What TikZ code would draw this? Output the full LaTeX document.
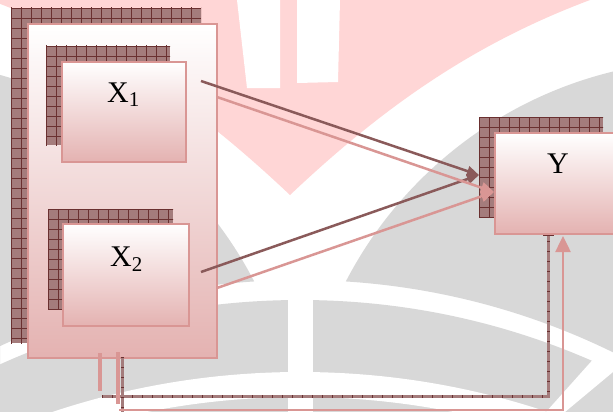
\documentclass[tikz,border=0pt]{standalone}
\usepackage{fontspec}
\setmainfont{Liberation Serif}
\usetikzlibrary{arrows.meta}
\definecolor{wmgrey}{HTML}{D8D8D8}
\definecolor{wmpink}{HTML}{FFD6D6}
\definecolor{pinkline}{HTML}{D99694}
\definecolor{boxbot}{HTML}{E4B2B1}
\definecolor{shbase}{HTML}{A47C7C}
\definecolor{shgrid}{HTML}{6A3030}
\definecolor{shline}{HTML}{8A5A5A}
\newcommand{\hatchrect}[4]{%
  \fill[shbase] (#1,#2) rectangle (#3,#4);
  \begin{scope}
    \clip (#1,#2) rectangle (#3,#4);
    \begin{scope}[shift={(#1,#2)}]
      \draw[shgrid, line width=0.7pt, step=10pt] (-1,-1) grid (#3-#1+1,#4-#2+1);
    \end{scope}
  \end{scope}}
\tikzset{
  boxnode/.style={draw=pinkline, line width=2.5pt, top color=white, bottom color=boxbot,
    inner sep=0pt, outer sep=0pt, anchor=north west},
  pinkconn/.style={draw=pinkline, line width=2.5pt},
  shadconn/.style={draw=shline, line width=2.5pt},
  lbl/.style={inner sep=0pt, anchor=base west, font=\fontsize{30}{30}\selectfont},
  pinktip/.style={-{Triangle[length=13pt,width=11pt]}},
  darktip/.style={-{Triangle[length=12pt,width=10pt]}},
}
\begin{document}
\begin{tikzpicture}[x=1pt,y=-1pt]
\useasboundingbox (0,0) rectangle (613,412);
\clip (0,0) rectangle (613,412);
% ---- watermark ----
\fill[white] (0,0) rectangle (613,412);
\fill[wmpink] (-10,0) .. controls (110,45) and (200,110) .. (290,195)
   .. controls (380,110) and (470,45) .. (590,0) -- cycle;
\fill[white] (237,0) -- (280,0) -- (280,88) -- (247,88) -- cycle;
\fill[white] (297,0) -- (340,0) -- (338,82) -- (297,83) -- cycle;
\begin{scope}
  \clip (710,470) circle[radius=410pt];
  \fill[wmgrey, even odd rule] (0,0) rectangle (613,412) (300,992) circle[radius=712pt];
\end{scope}
\begin{scope}
  \clip (-110,470) circle[radius=410pt];
  \fill[wmgrey, even odd rule] (0,0) rectangle (613,412) (300,992) circle[radius=712pt];
\end{scope}
\begin{scope}
  \clip (300,1029) circle[radius=729pt];
  \fill[wmgrey] (0,0) rectangle (613,412);
\end{scope}
\fill[white, even odd rule] (300,1155) circle[radius=783pt] (300,1180) circle[radius=783pt];
\fill[white] (288,296) rectangle (313,412);
\fill[white] (597,355) -- (613,355) -- (613,372) -- (565,412) -- (546,412) -- cycle;
% ---- boxes ----
\hatchrect{11}{8}{201}{343}
\node[boxnode, minimum width=189pt, minimum height=334pt] (outer) at (28,24) {};
\hatchrect{46}{46}{170}{145}
\node[boxnode, minimum width=124pt, minimum height=100pt] (x1) at (62,62) {};
\hatchrect{48}{209}{173}{309}
\node[boxnode, minimum width=126pt, minimum height=102pt] (x2) at (63,224) {};
\hatchrect{479}{117}{603}{217}
\node[boxnode, minimum width=135pt, minimum height=101pt] (y) at (495,133) {};
\node[lbl] (x1l) at (107,102) {X\raisebox{-5pt}{\fontsize{21}{21}\selectfont 1}};
\node[lbl] (x2l) at (110,266) {X\raisebox{-5pt}{\fontsize{21}{21}\selectfont 2}};
\node[lbl] (yl) at (547,173) {Y};
% ---- connector ends ----
\coordinate (s1a) at (201,81);
\coordinate (s2a) at (201,272);
\coordinate (stip) at (479,175);
\coordinate (p1a) at (217,97);
\coordinate (p2a) at (217,288);
\coordinate (ptip) at (494,192);
% ---- shadow connectors ----
\draw[shadconn, darktip] (s1a) -- (stip);
\draw[shadconn, darktip] (s2a) -- (stip);
\draw[shbase, line width=3pt] (102,396) -- (548,396) -- (548,235);
\draw[shgrid, line width=3pt, dash pattern=on 0.8pt off 9.2pt] (102,396) -- (548,396) -- (548,235);
\draw[shgrid, line width=1pt] (543,235) -- (554,235);
\draw[shbase, line width=3pt] (122,357) -- (122,412);
\draw[shgrid, line width=3pt, dash pattern=on 0.8pt off 9.2pt] (122,357) -- (122,412);
% ---- pink connectors ----
\draw[pinkconn, pinktip] (p1a) -- (ptip);
\draw[pinkconn, pinktip] (p2a) -- (ptip);
\draw[pinkline, line width=4pt] (100,353) -- (100,391);
\draw[pinkline, line width=4pt] (118,352) -- (118,404);
\draw[pinkconn, -{Triangle[length=16pt,width=15pt]}] (119,410) -- (563,410) -- (563,236);
\end{tikzpicture}
\end{document}
